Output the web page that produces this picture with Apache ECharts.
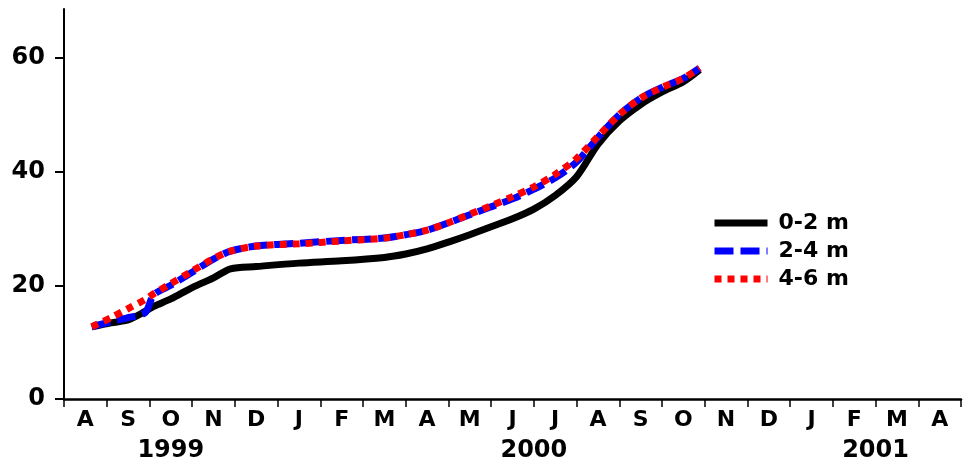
<!DOCTYPE html>
<html>
<head>
<meta charset="utf-8">
<script src="https://cdn.jsdelivr.net/npm/echarts@6/dist/echarts.min.js"></script>
<style>
html,body{margin:0;padding:0;background:#fff;}
#chart{width:964px;height:465px;}
</style>
</head>
<body>
<div id="chart"></div>
<script>
// Month tick labels (Aug 1999 .. Apr 2001)
const monthLabels = ['A','S','O','N','D','J','F','M','A','M','J','J','A','S','O','N','D','J','F','M','A'];
// Year labels and their position in months from 1 Aug 1999
const yearLabels = ['1999','2000','2001'];
const yearLabelMonth = [2.5, 11, 19];
// Y tick labels
const yTicks = [0, 20, 40, 60];
// Sample times, months since 1 Aug 1999
const sampleMonth = [0.65, 1.1, 1.5, 1.9, 2.1, 2.5, 3.0, 3.5, 3.9, 4.5, 5.5, 6.5, 7.5, 8.0, 8.5, 9.0, 9.5, 10.0, 10.5, 11.0, 11.5, 12.0, 12.5, 13.0, 13.5, 14.0, 14.5, 14.88];
const depth0to2 = [12.7, 13.4, 13.9, 15.4, 16.3, 17.6, 19.6, 21.3, 22.9, 23.3, 23.9, 24.3, 24.9, 25.5, 26.4, 27.6, 28.9, 30.3, 31.7, 33.4, 35.8, 39.1, 44.8, 48.9, 51.8, 54.0, 55.8, 57.9];
const depth2to4 = [12.7, 13.6, 14.3, 15.2, 18.3, 20.0, 22.3, 24.6, 26.0, 26.9, 27.4, 27.9, 28.3, 28.9, 29.7, 31.0, 32.4, 33.8, 35.2, 36.9, 38.9, 41.7, 46.0, 50.0, 52.9, 54.8, 56.4, 58.2];
const depth4to6 = [12.7, 14.3, 15.9, 17.5, 18.5, 20.3, 22.5, 24.7, 26.0, 26.9, 27.3, 27.8, 28.3, 28.9, 29.7, 31.0, 32.5, 34.0, 35.6, 37.3, 39.5, 42.3, 46.2, 50.0, 52.9, 54.8, 56.4, 58.2];
const seriesNames = ['0-2 m', '2-4 m', '4-6 m'];

const FONT = 'DejaVu Sans';
const pairs = (vals) => sampleMonth.map((m, i) => [m, vals[i]]);

const chart = echarts.init(document.getElementById('chart'), null, {renderer: 'canvas'});
chart.setOption({
  animation: false,
  backgroundColor: '#fff',
  grid: {left: 64, top: 9, width: 902, bottom: 66, containLabel: false},
  legend: {
    orient: 'vertical',
    left: 711,
    top: 212,
    padding: 0,
    itemWidth: 53,
    itemHeight: 14,
    itemGap: 6,
    data: seriesNames,
    itemStyle: {opacity: 0},
    lineStyle: {width: 7, cap: 'butt'},
    textStyle: {fontFamily: FONT, fontWeight: 'bold', fontSize: 22, color: '#000', lineHeight: 22, padding: [0, 0, 0, 6]}
  },
  xAxis: [
    {
      type: 'category',
      position: 'bottom',
      data: monthLabels,
      boundaryGap: true,
      axisLine: {lineStyle: {color: '#000', width: 2.5}},
      axisTick: {show: true, interval: 0, length: 8, lineStyle: {color: '#000', width: 1.5}},
      axisLabel: {interval: 0, margin: 10, fontFamily: FONT, fontWeight: 'bold', fontSize: 22, color: '#000'},
      splitLine: {show: false}
    },
    {
      type: 'value', min: 0, max: 21, show: false, position: 'bottom'
    },
    {
      type: 'value', min: 0, max: 42, interval: 1, position: 'bottom', offset: 30,
      axisLine: {show: false}, axisTick: {show: false}, splitLine: {show: false},
      axisLabel: {
        margin: 10, fontFamily: FONT, fontWeight: 'bold', fontSize: 24, color: '#000',
        showMinLabel: true, showMaxLabel: true,
        formatter: (v) => {
          for (let i = 0; i < yearLabels.length; i++) {
            if (Math.abs(yearLabelMonth[i] * 2 - v) < 1e-6) return yearLabels[i];
          }
          return '';
        }
      }
    }
  ],
  yAxis: {
    type: 'value',
    min: 0, max: 68.6, interval: 20,
    axisLine: {show: true, lineStyle: {color: '#000', width: 2}},
    axisTick: {show: true, length: 9, lineStyle: {color: '#000', width: 2}},
    splitLine: {show: false},
    axisLabel: {
      margin: 19, fontFamily: FONT, fontWeight: 'bold', fontSize: 24, color: '#000',
      showMaxLabel: false,
      formatter: (v) => (yTicks.indexOf(v) >= 0 ? String(v) : '')
    }
  },
  series: [
    {
      name: seriesNames[0], type: 'line', xAxisIndex: 1, smooth: 0.3, symbol: 'none',
      data: pairs(depth0to2),
      lineStyle: {color: '#000', width: 7, type: 'solid', cap: 'butt'},
      itemStyle: {color: '#000'}
    },
    {
      name: seriesNames[1], type: 'line', xAxisIndex: 1, smooth: 0.3, symbol: 'none',
      data: pairs(depth2to4),
      lineStyle: {color: '#0000ff', width: 7, type: [19, 7], cap: 'butt'},
      itemStyle: {color: '#0000ff'}
    },
    {
      name: seriesNames[2], type: 'line', xAxisIndex: 1, smooth: 0.3, symbol: 'none',
      data: pairs(depth4to6),
      lineStyle: {color: '#ff0000', width: 7, type: [7, 6], cap: 'butt'},
      itemStyle: {color: '#ff0000'}
    }
  ]
});
</script>
</body>
</html>
